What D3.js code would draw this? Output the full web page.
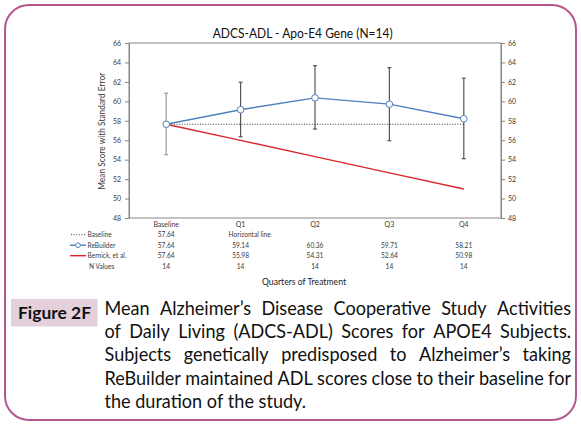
<!DOCTYPE html>
<html>
<head>
<meta charset="utf-8">
<script src="https://cdn.jsdelivr.net/npm/d3@7"></script>
<style>
  html, body { margin: 0; padding: 0; background: #ffffff; }
  svg { display: block; }
</style>
</head>
<body>
<svg id="chart" width="581" height="428"></svg>
<script>
// ---------------- data ----------------
const categories = ["Baseline", "Q1", "Q2", "Q3", "Q4"];
const baselineValues = [57.64, 57.64, 57.64, 57.64, 57.64];
const rebuilderValues = [57.64, 59.14, 60.36, 59.71, 58.21];
const bernickValues = [57.64, 55.98, 54.31, 52.64, 50.98];
const errorLow = [54.51, 56.36, 57.15, 55.95, 54.10];
const errorHigh = [60.84, 61.97, 63.67, 63.47, 62.38];
const nValues = [14, 14, 14, 14, 14];
const yTicks = [48, 50, 52, 54, 56, 58, 60, 62, 64, 66];
const tableRowLabels = ["Baseline", "ReBuilder", "Bernick, et al.", "N Values"];
const baselineRowTexts = ["57.64", "Horizontal line"];
const chartTitle = "ADCS-ADL - Apo-E4 Gene (N=14)";
const yAxisTitle = "Mean Score with Standard Error";
const xAxisTitle = "Quarters of Treatment";
const figureLabel = "Figure 2F";
const captionLines = [
  "Mean Alzheimer\u2019s Disease Cooperative Study Activities",
  "of Daily Living (ADCS-ADL) Scores for APOE4 Subjects.",
  "Subjects genetically predisposed to Alzheimer\u2019s taking",
  "ReBuilder maintained ADL scores close to their baseline for",
  "the duration of the study."
];

// ---------------- setup ----------------
const svg = d3.select("#chart");
const FONT = "Lato, 'Open Sans', 'Liberation Sans', sans-serif";
const blue = "#4f81bd", red = "#d9262b", axisGrey = "#868686", txt = "#3a3a3a";

// frame
svg.append("rect")
  .attr("x", 5).attr("y", 5).attr("width", 571).attr("height", 415)
  .attr("rx", 24).attr("ry", 24)
  .attr("fill", "none").attr("stroke", "#b4578c").attr("stroke-width", 2);

// scales
const x = d3.scaleBand().domain(categories).range([129, 501]);
const cx = c => x(c) + x.bandwidth() / 2;
const y = d3.scaleLinear().domain([48, 66]).range([218, 43]);

// plot box
svg.append("rect")
  .attr("x", 129).attr("y", y(66)).attr("width", 372).attr("height", y(48) - y(66))
  .attr("fill", "none").attr("stroke", axisGrey).attr("stroke-width", 1);

function styleAxis(g) {
  g.select(".domain").attr("stroke", axisGrey);
  g.selectAll(".tick line").attr("stroke", axisGrey);
  g.selectAll(".tick text").attr("fill", txt).attr("font-size", 7).attr("font-family", FONT);
}
svg.append("g").attr("transform", "translate(129,0)")
  .call(d3.axisLeft(y).tickValues(yTicks).tickSize(4).tickSizeOuter(0).tickPadding(4).tickFormat(d3.format("d")))
  .call(styleAxis);
svg.append("g").attr("transform", "translate(501,0)")
  .call(d3.axisRight(y).tickValues(yTicks).tickSize(4).tickSizeOuter(0).tickPadding(3).tickFormat(d3.format("d")))
  .call(styleAxis);

// category labels
svg.append("g").selectAll("text").data(categories).join("text")
  .attr("x", d => cx(d)).attr("y", 226.5)
  .attr("text-anchor", "middle").attr("font-size", 7).attr("font-family", FONT).attr("fill", txt)
  .text(d => d);

// title
svg.append("text").attr("x", 212.7).attr("y", 37.5)
  .attr("font-size", 12.5).attr("font-family", FONT).attr("fill", "#111")
  .attr("textLength", 180).attr("lengthAdjust", "spacingAndGlyphs")
  .text(chartTitle);

// y axis title
svg.append("text")
  .attr("transform", "translate(104.5,131.3) rotate(-90)")
  .attr("text-anchor", "middle")
  .attr("font-size", 8.5).attr("font-family", FONT).attr("fill", txt)
  .attr("textLength", 117).attr("lengthAdjust", "spacingAndGlyphs")
  .text(yAxisTitle);

// error bars
const eb = svg.append("g");
categories.forEach((c, i) => {
  const col = i === 0 ? "#9a9a9a" : "#555555";
  const g = eb.append("g").attr("stroke", col).attr("stroke-width", 1.2);
  g.append("line").attr("x1", cx(c)).attr("x2", cx(c)).attr("y1", y(errorLow[i])).attr("y2", y(errorHigh[i]));
  g.append("line").attr("x1", cx(c) - 2).attr("x2", cx(c) + 2).attr("y1", y(errorLow[i])).attr("y2", y(errorLow[i]));
  g.append("line").attr("x1", cx(c) - 2).attr("x2", cx(c) + 2).attr("y1", y(errorHigh[i])).attr("y2", y(errorHigh[i]));
});

const line = d3.line().x((d, i) => cx(categories[i])).y(d => y(d));

// baseline dotted
svg.append("path").datum(baselineValues).attr("d", line)
  .attr("fill", "none").attr("stroke", "#222").attr("stroke-width", 0.9).attr("stroke-dasharray", "1,1.6");
// bernick red
svg.append("path").datum(bernickValues).attr("d", line)
  .attr("fill", "none").attr("stroke", red).attr("stroke-width", 1.4);
// rebuilder blue
svg.append("path").datum(rebuilderValues).attr("d", line)
  .attr("fill", "none").attr("stroke", blue).attr("stroke-width", 1.4);
svg.append("g").selectAll("circle").data(rebuilderValues).join("circle")
  .attr("cx", (d, i) => cx(categories[i])).attr("cy", d => y(d)).attr("r", 3.3)
  .attr("fill", "#fff").attr("stroke", blue).attr("stroke-width", 1);

// data table
const rowY = [237, 247.5, 258, 268.5];
const tbl = svg.append("g").attr("font-size", 6.6).attr("font-family", FONT).attr("fill", txt);
tableRowLabels.forEach((lab, r) => {
  tbl.append("text").attr("x", r === 3 ? 89 : 87.5).attr("y", rowY[r]).text(lab);
});
// legend keys
const ky = r => rowY[r] - 2.3;
tbl.append("line").attr("x1", 71).attr("x2", 86).attr("y1", ky(0)).attr("y2", ky(0))
  .attr("stroke", "#222").attr("stroke-width", 0.9).attr("stroke-dasharray", "1,1.6");
tbl.append("line").attr("x1", 70).attr("x2", 86).attr("y1", ky(1)).attr("y2", ky(1))
  .attr("stroke", blue).attr("stroke-width", 1.4);
tbl.append("circle").attr("cx", 78).attr("cy", ky(1)).attr("r", 2.3)
  .attr("fill", "#fff").attr("stroke", blue).attr("stroke-width", 1);
tbl.append("line").attr("x1", 70).attr("x2", 86).attr("y1", ky(2)).attr("y2", ky(2))
  .attr("stroke", red).attr("stroke-width", 1.4);
// row values
tbl.append("text").attr("x", cx(categories[0])).attr("y", rowY[0]).attr("text-anchor", "middle").text(baselineRowTexts[0]);
tbl.append("text").attr("x", cx(categories[1]) - 12).attr("y", rowY[0]).attr("text-anchor", "start").text(baselineRowTexts[1]);
categories.forEach((c, i) => {
  tbl.append("text").attr("x", cx(c)).attr("y", rowY[1]).attr("text-anchor", "middle").text(rebuilderValues[i].toFixed(2));
  tbl.append("text").attr("x", cx(c)).attr("y", rowY[2]).attr("text-anchor", "middle").text(bernickValues[i].toFixed(2));
  tbl.append("text").attr("x", cx(c)).attr("y", rowY[3]).attr("text-anchor", "middle").text(nValues[i]);
});

// x axis title
svg.append("text").attr("x", 304).attr("y", 284.5).attr("text-anchor", "middle")
  .attr("font-size", 10).attr("font-family", FONT).attr("fill", "#222")
  .attr("textLength", 84).attr("lengthAdjust", "spacingAndGlyphs")
  .text(xAxisTitle);

// ---------------- caption ----------------
svg.append("rect").attr("x", 11).attr("y", 299).attr("width", 86.5).attr("height", 27.5)
  .attr("fill", "#e4d0db");
svg.append("text").attr("x", 18).attr("y", 319).attr("font-size", 17).attr("font-weight", "bold")
  .attr("font-family", FONT).attr("fill", "#111")
  .attr("textLength", 73).attr("lengthAdjust", "spacingAndGlyphs").text(figureLabel);

const cap = svg.append("g").attr("font-size", 19).attr("font-family", FONT).attr("fill", "#111");
function measure(s) {
  const t = cap.append("text").text(s);
  const w = t.node().getComputedTextLength();
  t.remove();
  return w;
}
const X0 = 104.5, X1 = 571, TW = X1 - X0;
const sx = Math.min(1, TW / measure(captionLines[3]));
const spaceW = (measure("a a") - 2 * measure("a")) * sx;
const capBase = [315, 338.2, 361.4, 384.6, 407.8];
captionLines.forEach((ln, li) => {
  const words = ln.split(" ");
  const ws = words.map(w => measure(w) * sx);
  const total = d3.sum(ws);
  const justify = li < 4;
  const gap = justify ? (TW - total) / (words.length - 1) : spaceW;
  let xx = X0;
  words.forEach((w, wi) => {
    cap.append("text").attr("x", xx).attr("y", capBase[li])
      .attr("textLength", ws[wi]).attr("lengthAdjust", "spacingAndGlyphs").text(w);
    xx += ws[wi] + gap;
  });
});
</script>
</body>
</html>
